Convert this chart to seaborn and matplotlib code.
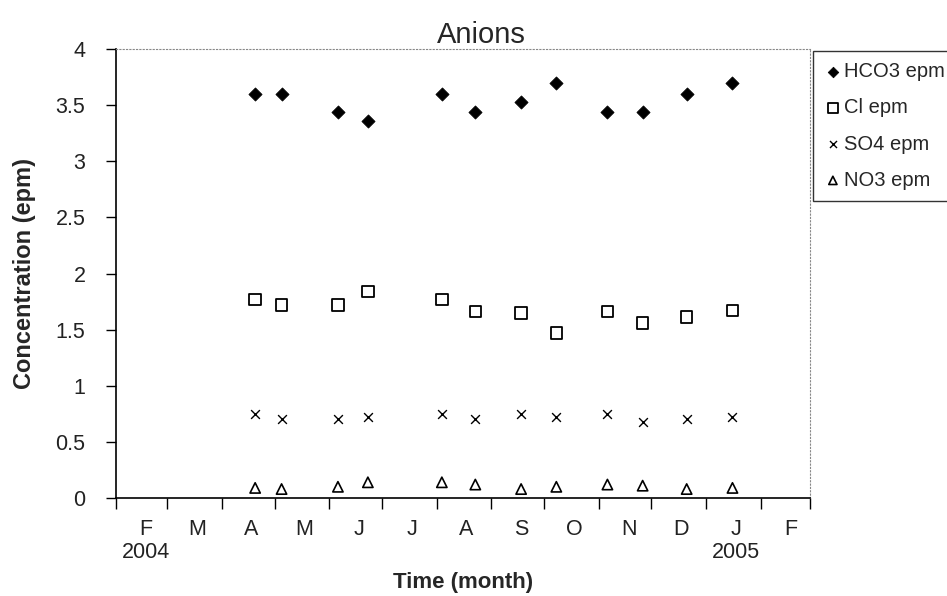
import pandas as pd
import matplotlib
matplotlib.use('Agg')
import matplotlib.pyplot as plt
import matplotlib.dates as mdates
import seaborn as sns

# Sampling dates and anion concentrations (epm)
dates = ['2004-04-20', '2004-05-05', '2004-06-06', '2004-06-23', '2004-08-04', '2004-08-23',
         '2004-09-18', '2004-10-08', '2004-11-06', '2004-11-26', '2004-12-21', '2005-01-16']
hco3 = [3.60, 3.60, 3.44, 3.36, 3.60, 3.44, 3.53, 3.70, 3.44, 3.44, 3.60, 3.70]
cl = [1.77, 1.72, 1.72, 1.84, 1.77, 1.66, 1.65, 1.47, 1.66, 1.56, 1.61, 1.67]
so4 = [0.75, 0.70, 0.70, 0.72, 0.75, 0.70, 0.75, 0.72, 0.75, 0.68, 0.70, 0.72]
no3 = [0.09, 0.08, 0.10, 0.14, 0.14, 0.12, 0.08, 0.10, 0.12, 0.11, 0.08, 0.09]

series_names = ['HCO3 epm', 'Cl epm', 'SO4 epm', 'NO3 epm']
month_letters = ['F', 'M', 'A', 'M', 'J', 'J', 'A', 'S', 'O', 'N', 'D', 'J', 'F']
year_labels = {0: '2004', 11: '2005'}

df = pd.DataFrame({'date': pd.to_datetime(dates), 'HCO3 epm': hco3, 'Cl epm': cl,
                   'SO4 epm': so4, 'NO3 epm': no3})

sns.set_style('white')
plt.rcParams['font.family'] = ['Liberation Sans', 'DejaVu Sans']

fig = plt.figure(figsize=(9.47, 5.96), dpi=100)
ax = fig.add_axes([0.1225, 0.1644, 0.7328, 0.7534])

# marker styles per series
styles = {
    'HCO3 epm': dict(marker='D', s=45, color='black', edgecolor='black'),
    'Cl epm': dict(marker='s', s=70, facecolors='none', edgecolor='black', linewidth=1.3),
    'SO4 epm': dict(marker='x', s=40, color='black', linewidth=1.0),
    'NO3 epm': dict(marker='^', s=55, facecolors='none', edgecolor='black', linewidth=1.2),
}
for name in series_names:
    sns.scatterplot(data=df, x='date', y=name, ax=ax, label=name, **styles[name])

# y axis
ax.set_ylim(0, 4)
ax.set_yticks([0, 0.5, 1, 1.5, 2, 2.5, 3, 3.5, 4])
ax.set_yticklabels(['0', '0.5', '1', '1.5', '2', '2.5', '3', '3.5', '4'])

# x axis: month boundaries as ticks, letters centred in each month
ax.set_xlim(pd.Timestamp('2004-02-01'), pd.Timestamp('2005-03-01'))
ax.xaxis.set_major_locator(mdates.MonthLocator())
ax.xaxis.set_major_formatter(plt.NullFormatter())
mids = pd.date_range('2004-02-01', periods=13, freq='MS') + pd.Timedelta(days=17)
ax.set_xticks(mids, minor=True)
minor_labels = [m + ('\n' + year_labels[i] if i in year_labels else '') for i, m in enumerate(month_letters)]
ax.set_xticklabels(minor_labels, minor=True)

ax.tick_params(axis='x', which='major', direction='out', length=8, width=1, color='black', bottom=True)
ax.tick_params(axis='x', which='minor', length=0, labelsize=15.5, pad=15, labelcolor='#222222')
ax.tick_params(axis='y', direction='out', length=7, width=1, color='black', left=True,
               labelsize=15.5, pad=15, labelcolor='#222222')
for lbl in ax.get_xticklabels(minor=True):
    lbl.set_linespacing(1.15)

# spines
for side in ['left', 'bottom']:
    ax.spines[side].set_color('black')
    ax.spines[side].set_linewidth(1.2)
for side in ['top', 'right']:
    ax.spines[side].set_color('#888888')
    ax.spines[side].set_linestyle((0, (1, 2)))
    ax.spines[side].set_linewidth(0.8)

ax.set_title('Anions', fontsize=21, pad=4, x=0.526)
label_font = ['Liberation Sans Narrow', 'Liberation Sans', 'DejaVu Sans']
ax.set_xlabel('Time (month)', fontsize=16, fontweight='bold', family=label_font, labelpad=6)
ax.set_ylabel('Concentration (epm)', fontsize=17, fontweight='bold', family=label_font, labelpad=14)

leg = ax.legend(loc='upper left', bbox_to_anchor=(1.004, 0.995), frameon=True, fancybox=False,
                fontsize=14.5, borderaxespad=0, handletextpad=0.1, labelspacing=0.85,
                handlelength=0.9, borderpad=0.55, markerscale=0.8)
leg.get_frame().set_edgecolor('black')
leg.get_frame().set_linewidth(1.0)

fig.savefig('out.png', dpi=100)
